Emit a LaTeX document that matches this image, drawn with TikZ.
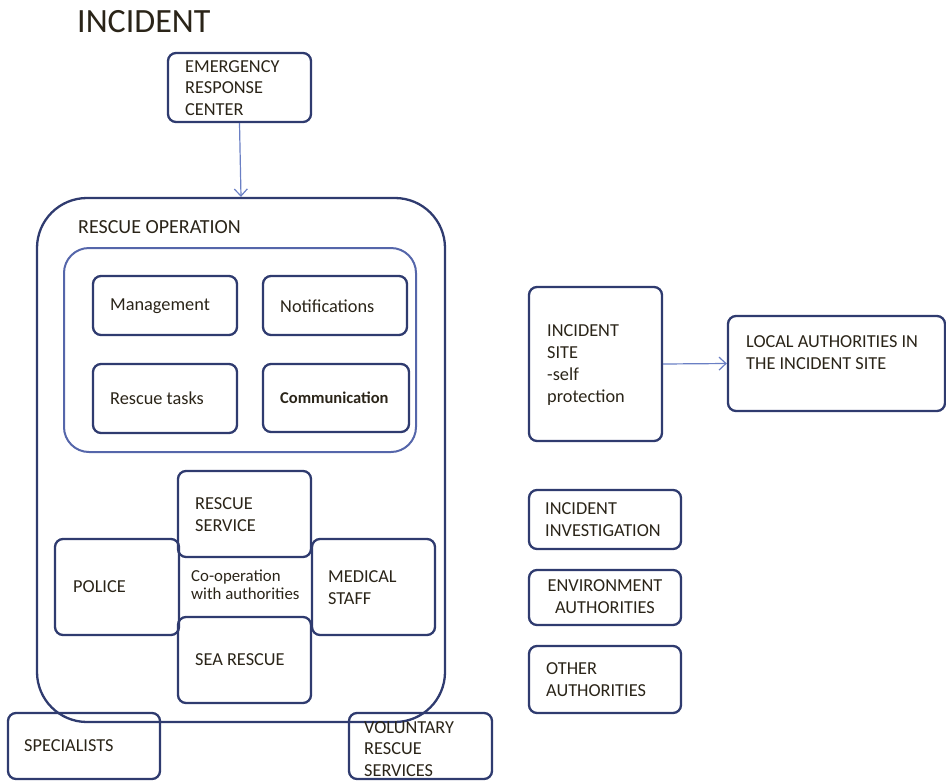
\documentclass[tikz,border=0pt]{standalone}
\usepackage{fontspec}
\setmainfont{Carlito}
\usetikzlibrary{arrows.meta}
\definecolor{navy}{HTML}{2F3B6F}
\definecolor{midblue}{HTML}{5566AA}
\definecolor{arrowblue}{HTML}{6A7FC4}
\definecolor{txt}{HTML}{2A2418}
\tikzset{
  x=1pt, y=-1pt,
  box/.style={draw=navy, line width=2.3pt, rounded corners=8pt, inner sep=0pt, fill=none},
  lbl/.style={inner sep=0pt, anchor=west, align=left, text=txt, font=\fontsize{18.3}{21.8}\selectfont},
  conn/.style={draw=arrowblue, line width=1.2pt, -{Straight Barb[length=7pt,width=13pt]}},
}
\begin{document}
\begin{tikzpicture}
\useasboundingbox (0,0) rectangle (946,780);
% title
\node[lbl, font=\fontsize{34}{38}\selectfont] (title) at (77,22) {INCIDENT};
% boxes
\node[box, minimum width=143pt, minimum height=69pt] (erc) at (239.5,87.5) {};
\node[box, rounded corners=50pt, minimum width=408pt, minimum height=524pt] (rescue) at (241,460) {};
\node[box, draw=midblue, line width=2pt, rounded corners=25pt, minimum width=352pt, minimum height=204pt] (inner) at (240,350) {};
\node[box, minimum width=144pt, minimum height=59pt] (mgmt) at (165,305.5) {};
\node[box, minimum width=144pt, minimum height=59pt] (notif) at (335,305.5) {};
\node[box, minimum width=144pt, minimum height=69pt] (tasks) at (165,398.5) {};
\node[box, minimum width=146pt, minimum height=68pt] (comm) at (336,398) {};
\node[box, minimum width=133pt, minimum height=86pt] (rsvc) at (244.5,514) {};
\node[box, minimum width=124pt, minimum height=96pt] (police) at (117,587) {};
\node[box, minimum width=123pt, minimum height=96pt] (medical) at (373.5,587) {};
\node[box, minimum width=133pt, minimum height=86pt] (sea) at (244.5,660) {};
\node[box, minimum width=152pt, minimum height=66pt] (spec) at (84,746) {};
\node[box, minimum width=143pt, minimum height=66pt] (vol) at (420.5,746) {};
\node[box, minimum width=133pt, minimum height=154pt] (site) at (595.5,364) {};
\node[box, minimum width=217pt, minimum height=95pt] (local) at (836.5,363.5) {};
\node[box, minimum width=152pt, minimum height=59pt] (inv) at (605,519.5) {};
\node[box, minimum width=152pt, minimum height=55pt] (env) at (605,597.5) {};
\node[box, minimum width=152pt, minimum height=67pt] (other) at (605,679.5) {};
% labels
\node[lbl] (tErc) at (185,88) {EMERGENCY\\RESPONSE\\CENTER};
\node[lbl, font=\fontsize{20}{23}\selectfont] (tRescue) at (78,227) {RESCUE OPERATION};
\node[lbl] (tMgmt) at (110,306) {Management};
\node[lbl] (tNotif) at (280,306) {Notifications};
\node[lbl] (tTasks) at (110,398) {Rescue tasks};
\node[lbl, font=\fontsize{16.5}{20}\bfseries] (tComm) at (280,398) {Communication};
\node[lbl] (tRsvc) at (195,514.5) {RESCUE\\SERVICE};
\node[lbl] (tPolice) at (73,587) {POLICE};
\node[lbl, font=\fontsize{16.8}{18}\selectfont] (tCoop) at (191,585) {Co-operation\\with authorities};
\node[lbl] (tMed) at (328,588) {MEDICAL\\STAFF};
\node[lbl] (tSea) at (195,660) {SEA RESCUE};
\node[lbl] (tSpec) at (24,746) {SPECIALISTS};
\node[lbl] (tVol) at (364,749) {VOLUNTARY\\RESCUE\\SERVICES};
\node[lbl] (tSite) at (547,365) {INCIDENT\\SITE\\-self\\protection};
\node[lbl] (tLocal) at (746,353) {LOCAL AUTHORITIES IN\\THE INCIDENT SITE};
\node[lbl] (tInv) at (545,519.5) {INCIDENT\\INVESTIGATION};
\node[lbl, anchor=center, align=center] (tEnv) at (605,597) {ENVIRONMENT\\AUTHORITIES};
\node[lbl] (tOther) at (546,679.5) {OTHER\\AUTHORITIES};
% connectors
\draw[conn] (erc.south) -- (rescue.north);
\draw[conn] (site.east) -- (local.west);
\end{tikzpicture}
\end{document}
